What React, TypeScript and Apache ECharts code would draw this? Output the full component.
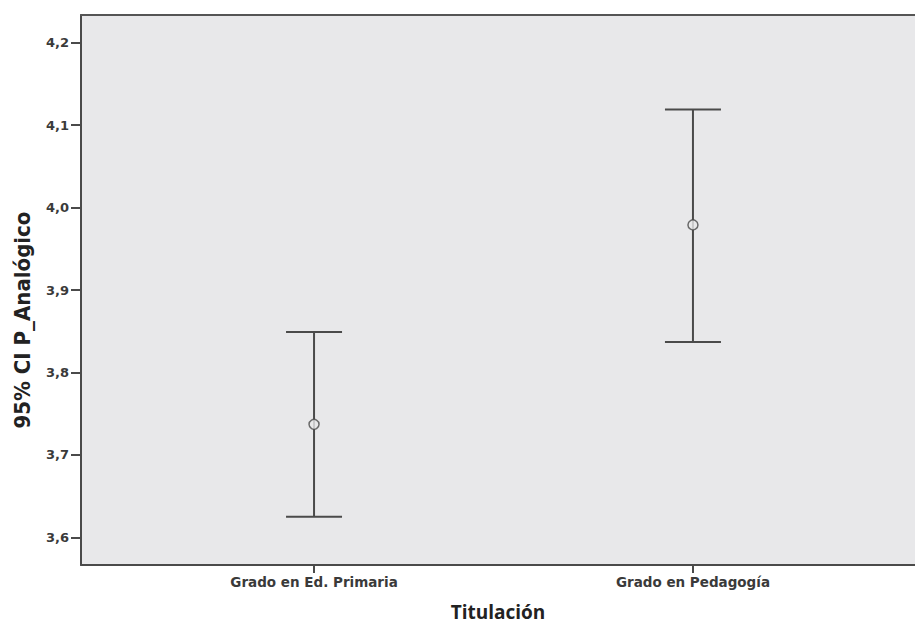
import React, { useEffect, useRef } from "react";
import * as echarts from "echarts";

const categories = ["Grado en Ed. Primaria", "Grado en Pedagogía"];
const categoryPos = [1, 2];
const means = [3.737, 3.979];
const lower = [3.625, 3.837];
const upper = [3.849, 4.119];
const yTicks = [3.6, 3.7, 3.8, 3.9, 4.0, 4.1, 4.2];

export default function App() {
  const ref = useRef<HTMLDivElement>(null);
  useEffect(() => {
    if (!ref.current) return;
    const chart = echarts.init(ref.current, undefined, { renderer: "svg" });
    const errData = categoryPos.map((x, i) => [x, lower[i], upper[i]]);
    const meanData = categoryPos.map((x, i) => [x, means[i]]);
    const xMin = 0.385;
    const xMax = 2.586;
    chart.setOption({
      animation: false,
      backgroundColor: "#ffffff",
      grid: {
        left: 81,
        top: 15,
        right: 0,
        bottom: 55,
        show: true,
        backgroundColor: "#e8e8ea",
        borderWidth: 0,
      },
      graphic: [
        {
          type: "text",
          rotation: Math.PI / 2,
          x: 22,
          y: 320,
          style: {
            text: "95% CI P_Analógico",
            fill: "#222",
            font: "bold 22px 'DejaVu Sans Condensed', 'DejaVu Sans', sans-serif",
            align: "center",
            verticalAlign: "middle",
          },
        },
      ],
      xAxis: [
        {
          type: "value",
          min: xMin,
          max: xMax,
          splitLine: { show: false },
          axisLine: { show: true, lineStyle: { color: "#4a4a4a", width: 2 } },
          axisTick: {
            show: true,
            customValues: categoryPos,
            length: 8,
            lineStyle: { color: "#4a4a4a", width: 2 },
          },
          axisLabel: {
            customValues: categoryPos,
            formatter: (v: number) => categories[Math.round(v) - 1] ?? "",
            color: "#3a3a3a",
            fontFamily: "DejaVu Sans",
            fontSize: 13.5,
            fontWeight: "bold",
            margin: 10,
          },
          name: "Titulación",
          nameLocation: "middle",
          nameGap: 37,
          nameTextStyle: {
            color: "#222",
            fontFamily: "Open Sans",
            fontWeight: "bold",
            fontSize: 19,
          },
        },
        {
          type: "value",
          position: "top",
          min: xMin,
          max: xMax,
          splitLine: { show: false },
          axisLine: { show: true, lineStyle: { color: "#555555", width: 2 } },
          axisTick: { show: false },
          axisLabel: { show: false },
        },
      ],
      yAxis: {
        type: "value",
        min: 3.5664,
        max: 4.2336,
        splitLine: { show: false },
        axisLine: { show: true, lineStyle: { color: "#4a4a4a", width: 2 } },
        axisTick: {
          show: true,
          customValues: yTicks,
          length: 10,
          lineStyle: { color: "#4a4a4a", width: 2 },
        },
        axisLabel: {
          customValues: yTicks,
          formatter: (v: number) => v.toFixed(1).replace(".", ","),
          color: "#3a3a3a",
          fontFamily: "DejaVu Sans",
          fontSize: 13,
          fontWeight: "bold",
          margin: 12,
        },
      },
      series: [
        {
          type: "custom",
          xAxisIndex: 0,
          data: errData,
          z: 2,
          renderItem: (params: any, api: any) => {
            const x = api.value(0);
            const lo = api.coord([x, api.value(1)]);
            const hi = api.coord([x, api.value(2)]);
            const hw = 28;
            const style = { stroke: "#4a4a4a", lineWidth: 2 };
            return {
              type: "group",
              children: [
                { type: "line", shape: { x1: lo[0], y1: lo[1], x2: hi[0], y2: hi[1] }, style },
                { type: "line", shape: { x1: lo[0] - hw, y1: lo[1], x2: lo[0] + hw, y2: lo[1] }, style },
                { type: "line", shape: { x1: hi[0] - hw, y1: hi[1], x2: hi[0] + hw, y2: hi[1] }, style },
              ],
            };
          },
        },
        {
          type: "scatter",
          xAxisIndex: 0,
          data: meanData,
          z: 3,
          symbol: "circle",
          symbolSize: 10,
          itemStyle: { color: "#e8e8ea", borderColor: "#4a4a4a", borderWidth: 1.5 },
        },
      ],
    });
    return () => chart.dispose();
  }, []);
  return (
    <div
      ref={ref}
      style={{ position: "fixed", left: 0, top: 0, width: 915, height: 626 }}
    />
  );
}
